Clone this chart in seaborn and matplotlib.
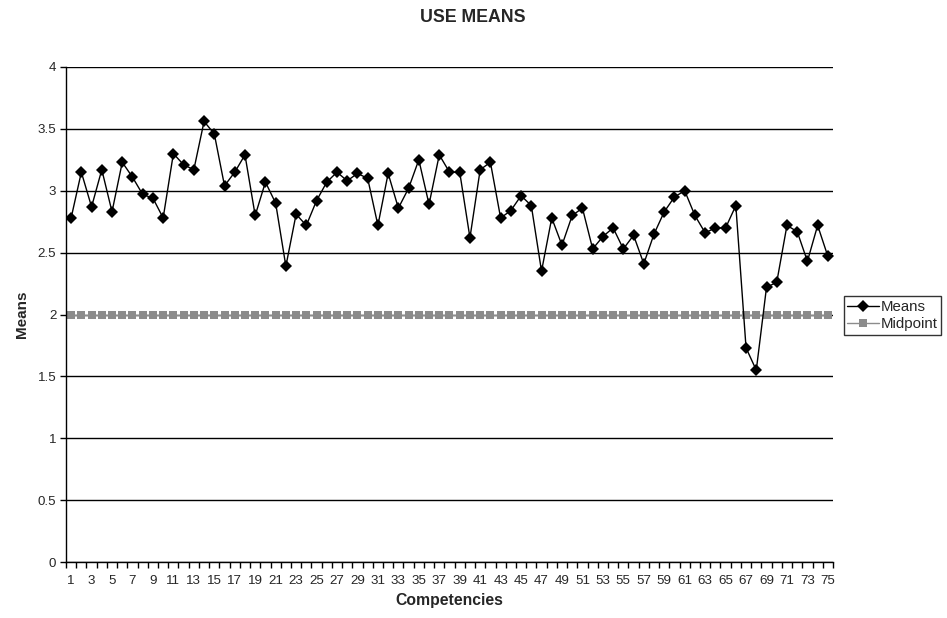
import numpy as np
import pandas as pd
import seaborn as sns
import matplotlib.pyplot as plt
from matplotlib.ticker import FixedLocator, NullFormatter

# Data
competencies = list(range(1, 76))
means = [2.78, 3.15, 2.87, 3.17, 2.83, 3.23, 3.11, 2.97, 2.94, 2.78,
         3.30, 3.21, 3.17, 3.56, 3.46, 3.04, 3.15, 3.29, 2.80, 3.07,
         2.90, 2.39, 2.81, 2.72, 2.92, 3.07, 3.15, 3.08, 3.14, 3.10,
         2.72, 3.14, 2.86, 3.02, 3.25, 2.89, 3.29, 3.15, 3.15, 2.62,
         3.17, 3.23, 2.78, 2.84, 2.96, 2.88, 2.35, 2.78, 2.56, 2.80,
         2.86, 2.53, 2.63, 2.70, 2.53, 2.64, 2.41, 2.65, 2.83, 2.95,
         3.00, 2.80, 2.66, 2.70, 2.70, 2.88, 1.73, 1.55, 2.22, 2.26,
         2.72, 2.67, 2.43, 2.72, 2.47]
midpoint = [2.0] * len(competencies)

df = pd.DataFrame({"Competency": competencies, "Means": means, "Midpoint": midpoint})

sns.set_style("white")
plt.rcParams['font.family'] = ['Liberation Sans', 'DejaVu Sans']

fig = plt.figure(figsize=(9.47, 6.18), dpi=100)
ax = fig.add_axes([0.0697, 0.0906, 0.8099, 0.801])

# Midpoint drawn first so the means line sits on top
sns.lineplot(data=df, x="Competency", y="Midpoint", ax=ax, color="#8c8c8c",
             marker="s", markersize=5.6, markeredgewidth=0, linewidth=1,
             label="Midpoint", legend=False)
sns.lineplot(data=df, x="Competency", y="Means", ax=ax, color="black",
             marker="D", markersize=6, markeredgewidth=0, linewidth=1,
             label="Means", legend=False)

ax.set_xlim(0.5, 75.5)
ax.set_ylim(0, 4)
ax.set_yticks(np.arange(0, 4.01, 0.5))
ax.set_yticklabels(["0", "0.5", "1", "1.5", "2", "2.5", "3", "3.5", "4"])
ax.yaxis.grid(True, color="black", linewidth=1)
ax.xaxis.grid(False)
ax.set_axisbelow(True)

# category axis: labels on odd numbers, tick marks between categories
ax.set_xticks(competencies[::2])
ax.set_xticklabels([str(c) for c in competencies[::2]])
ax.xaxis.set_minor_locator(FixedLocator(np.arange(0.5, 76, 1)))
ax.xaxis.set_minor_formatter(NullFormatter())
ax.tick_params(axis="x", which="major", length=0, pad=9, labelsize=9.6)
ax.tick_params(axis="x", which="minor", length=4, width=1, color="black",
               direction="out", bottom=True)
ax.tick_params(axis="y", which="major", length=4, width=1, color="black",
               direction="out", left=True, labelsize=9.6, pad=3)

for side in ["top", "right"]:
    ax.spines[side].set_visible(False)
for side in ["left", "bottom"]:
    ax.spines[side].set_color("black")
    ax.spines[side].set_linewidth(1)

ax.set_xlabel("Competencies", fontsize=11.3, fontweight="bold", labelpad=5)
ax.set_ylabel("Means", fontsize=11, fontweight="bold", labelpad=6)
fig.suptitle("USE MEANS", fontsize=12.8, fontweight="bold", y=0.985, x=0.499)

handles, labels = ax.get_legend_handles_labels()
order = [labels.index("Means"), labels.index("Midpoint")]
leg = ax.legend([handles[i] for i in order], [labels[i] for i in order],
                loc="center left", bbox_to_anchor=(1.014, 0.498), fontsize=10.8,
                frameon=True, fancybox=False, edgecolor="black",
                handlelength=2.1, handletextpad=0.1, borderpad=0.25,
                labelspacing=0.2, borderaxespad=0)
leg.get_frame().set_linewidth(1)

fig.savefig("out.png", dpi=100)
